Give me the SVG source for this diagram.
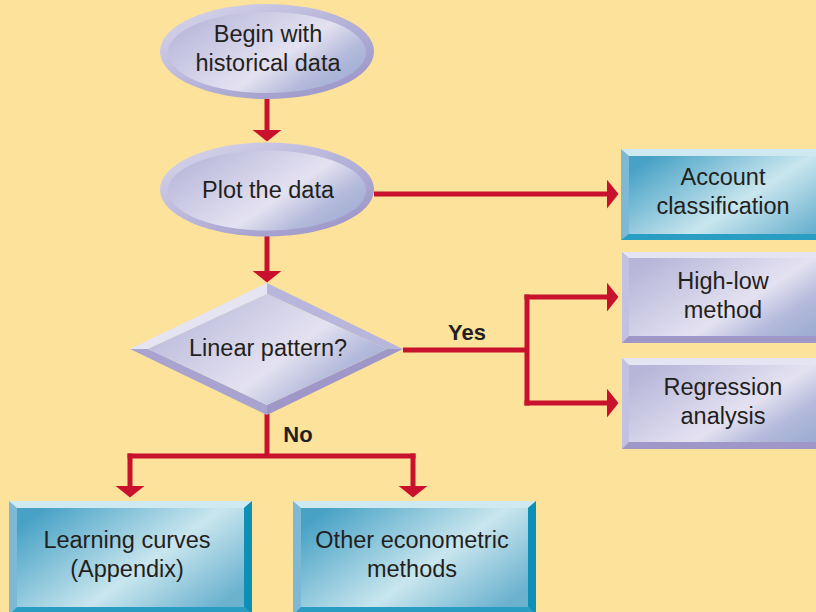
<svg xmlns="http://www.w3.org/2000/svg" width="816" height="612" viewBox="0 0 816 612">
<defs>
<style>
.t{font-family:"Liberation Sans",Arial,sans-serif;font-size:23.5px;fill:#231F20;text-anchor:middle}
.b{font-family:"Liberation Sans",Arial,sans-serif;font-size:22px;font-weight:bold;fill:#231F20;text-anchor:middle}
.c{fill:none;stroke:#C8122D;stroke-width:5}
.ca{fill:none;stroke:#C8122D;stroke-width:5;marker-end:url(#ah)}
.lt{fill:#E5E4F3}.ll{fill:#C3C1E1}.lb{fill:#9E97C7}.lr{fill:#A9A4CF}
.tt{fill:#CFE9F0}.tl{fill:#7DB9D4}.tb{fill:#2A9DC2}.tr{fill:#0E8FB5}
</style>
<marker id="ah" viewBox="0 0 12 30" markerWidth="12" markerHeight="30" refX="0.5" refY="15" orient="auto" markerUnits="userSpaceOnUse">
<path d="M0,0 L12,15 L0,30 Z" fill="#C8122D"/>
</marker>
<linearGradient id="lavF" x1="0" y1="0.2" x2="1" y2="0.8">
<stop offset="0" stop-color="#B7B6D9"/>
<stop offset="0.58" stop-color="#E4E2F1"/>
<stop offset="0.8" stop-color="#B4BADB"/>
<stop offset="1" stop-color="#9DADD3"/>
</linearGradient>
<linearGradient id="lavR" x1="0" y1="0" x2="1" y2="1">
<stop offset="0" stop-color="#DAD9EC"/>
<stop offset="0.5" stop-color="#B7B4DA"/>
<stop offset="1" stop-color="#958FC3"/>
</linearGradient>
<linearGradient id="tealF" x1="0" y1="0.2" x2="1" y2="0.8">
<stop offset="0" stop-color="#48A2C6"/>
<stop offset="0.58" stop-color="#C9E6EE"/>
<stop offset="1" stop-color="#6CB2CF"/>
</linearGradient>
</defs>
<rect width="816" height="612" fill="#FDE29B"/>

<g id="connectors">
<path class="ca" d="M267,98 V130"/>
<path class="ca" d="M267,236 V271"/>
<path class="ca" d="M374,194 H607"/>
<path class="c" d="M403,350 H527"/>
<path class="c" d="M527,294.5 V405.5"/>
<path class="ca" d="M524.5,297 H607"/>
<path class="ca" d="M524.5,403 H607"/>
<path class="c" d="M267,414 V456"/>
<path class="c" d="M127.5,456 H415.5"/>
<path class="ca" d="M130,453.5 V486"/>
<path class="ca" d="M413,453.5 V486"/>
<text class="b" x="467" y="340">Yes</text>
<text class="b" x="298" y="442">No</text>
</g>

<g id="begin">
<ellipse cx="267" cy="51.5" rx="107" ry="47.5" fill="url(#lavR)"/>
<ellipse cx="267" cy="52.5" rx="99" ry="40.5" fill="url(#lavF)"/>
<text class="t" x="268" y="42">Begin with</text>
<text class="t" x="268" y="71">historical data</text>
</g>

<g id="plot">
<ellipse cx="267" cy="189.5" rx="107" ry="47" fill="url(#lavR)"/>
<ellipse cx="267" cy="190.5" rx="99" ry="40" fill="url(#lavF)"/>
<text class="t" x="268" y="198">Plot the data</text>
</g>

<g id="linear">
<polygon class="lt" points="130,349 267,283 267,294 148,349"/>
<polygon fill="#B8B6DB" points="267,283 403,349 387,349 267,294"/>
<polygon class="lb" points="403,349 267,415 267,405 387,349"/>
<polygon class="lr" points="267,415 130,349 148,349 267,405"/>
<polygon fill="url(#lavF)" points="148,349 267,294 387,349 267,405"/>
<text class="t" x="268" y="356">Linear pattern?</text>
</g>

<g id="account">
<rect x="621" y="149" width="210" height="91" class="tl"/>
<polygon class="tt" points="621,149 830,149 830,156 629,156"/>
<polygon class="tb" points="621,240 830,240 830,234 629,234"/>
<rect x="629" y="156" width="201" height="78" fill="url(#tealF)"/>
<text class="t" x="723" y="185">Account</text>
<text class="t" x="723" y="214">classification</text>
</g>

<g id="highlow">
<rect x="622" y="252" width="210" height="91" class="ll"/>
<polygon class="lt" points="622,252 832,252 832,258 629,258"/>
<polygon class="lb" points="622,343 832,343 832,336 629,336"/>
<rect x="629" y="258" width="203" height="78" fill="url(#lavF)"/>
<text class="t" x="723" y="289">High-low</text>
<text class="t" x="723" y="318">method</text>
</g>

<g id="regression">
<rect x="622" y="358" width="210" height="91" class="ll"/>
<polygon class="lt" points="622,358 832,358 832,365 629,365"/>
<polygon class="lb" points="622,449 832,449 832,442 629,442"/>
<rect x="629" y="365" width="203" height="77" fill="url(#lavF)"/>
<text class="t" x="723" y="395">Regression</text>
<text class="t" x="723" y="424">analysis</text>
</g>

<g id="learning">
<rect x="9" y="501" width="243" height="114" class="tl"/>
<polygon class="tt" points="9,501 252,501 244,508 17,508"/>
<polygon class="tr" points="252,501 252,615 244,607 244,508"/>
<polygon class="tb" points="9,615 252,615 244,607 17,607"/>
<rect x="17" y="508" width="227" height="99" fill="url(#tealF)"/>
<text class="t" x="127" y="548">Learning curves</text>
<text class="t" x="127" y="577">(Appendix)</text>
</g>

<g id="other">
<rect x="293" y="501" width="243" height="114" class="tl"/>
<polygon class="tt" points="293,501 536,501 528,508 301,508"/>
<polygon class="tr" points="536,501 536,615 528,607 528,508"/>
<polygon class="tb" points="293,615 536,615 528,607 301,607"/>
<rect x="301" y="508" width="227" height="99" fill="url(#tealF)"/>
<text class="t" x="412" y="548">Other econometric</text>
<text class="t" x="412" y="577">methods</text>
</g>
</svg>
